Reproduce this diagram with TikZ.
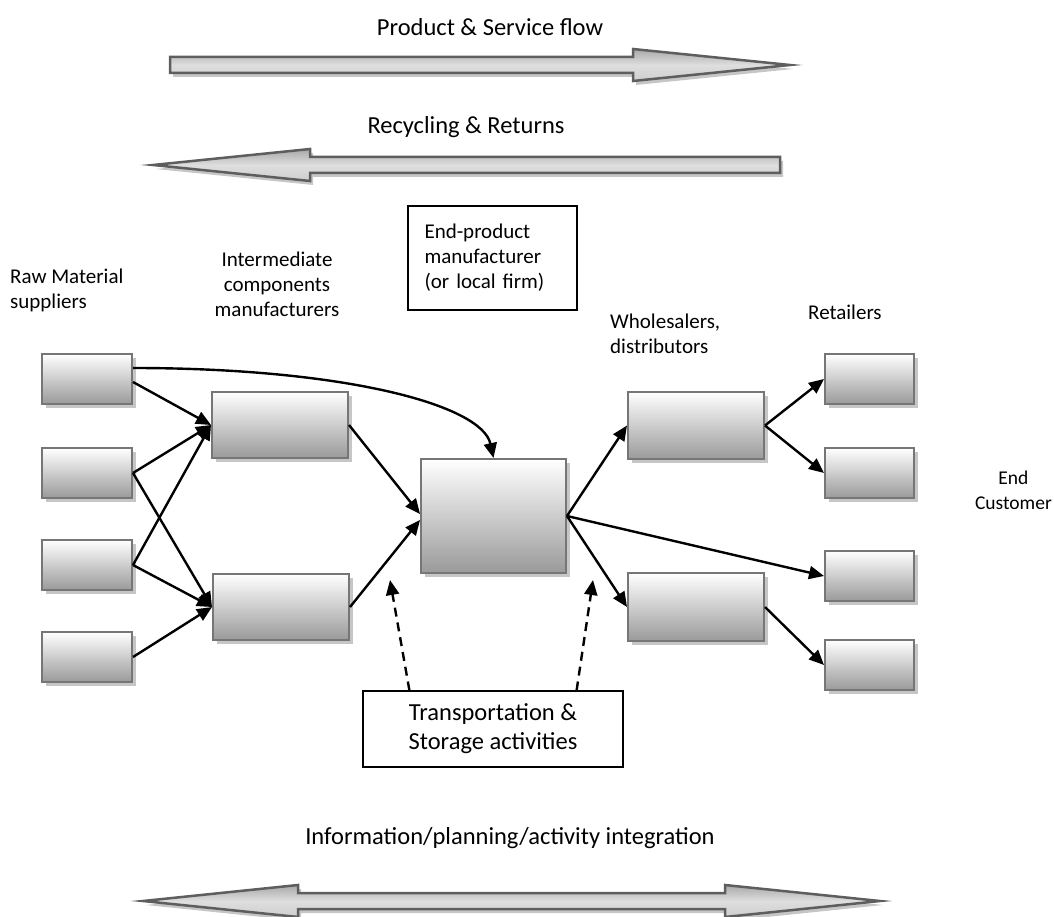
\documentclass[tikz,border=0pt]{standalone}
\usepackage{fontspec}
\setmainfont{Carlito}
\usetikzlibrary{arrows.meta,shadows,calc}
\definecolor{boxedge}{HTML}{767676}
\definecolor{boxshade}{HTML}{9A9A9A}
\definecolor{shadowgray}{HTML}{C6C6C6}
\definecolor{arrowedge}{HTML}{5E5E5E}
\begin{document}
\begin{tikzpicture}[x=1pt,y=-1pt,
  stagebox/.style={draw=boxedge, line width=2pt, top color=white, bottom color=boxshade,
    inner sep=0pt,
    drop shadow={shadow xshift=4pt, shadow yshift=-4pt, fill=shadowgray, opacity=1}},
  flow/.style={line width=2.4pt, -{Triangle[length=15pt,width=13pt]}},
  support/.style={flow, dash pattern=on 9pt off 6pt},
  lbl/.style={font=\fontsize{21}{25}\selectfont, inner sep=0pt},
  biglbl/.style={font=\fontsize{24.5}{29}\selectfont, inner sep=0pt},
  textbox/.style={draw=black, line width=1.2pt},
  bigarrow/.style={draw=arrowedge, line width=2.5pt, line join=miter,
    top color=gray!68, bottom color=gray!38, middle color=gray!26,
    drop shadow={shadow xshift=3pt, shadow yshift=-4pt, fill=shadowgray, opacity=1}}]
\useasboundingbox (0,0) rectangle (1054,917);

% flow banners
\node[biglbl] (pflow) at (490,27) {Product \& Service flow};
\draw[bigarrow] (170,57) -- (633,57) -- (633,49) -- (790,65) -- (633,81) -- (633,73) -- (170,73) -- cycle;
\node[biglbl] (rflow) at (466,127) {Recycling \& Returns};
\draw[bigarrow] (780,157) -- (310,157) -- (310,149) -- (153,165) -- (310,181) -- (310,173) -- (780,173) -- cycle;
\node[biglbl] (iflow) at (510,838) {Information/planning/activity integration};
\draw[bigarrow] (143,901) -- (298,885) -- (298,893) -- (725,893) -- (725,885) -- (880,901)
  -- (725,917) -- (725,909) -- (298,909) -- (298,917) -- cycle;

% stage labels
\node[lbl, anchor=west, align=left] (lraw) at (10,290.5) {Raw Material\\suppliers};
\node[lbl, align=center] (lint) at (277,284) {Intermediate\\components\\manufacturers};
\node[lbl, textbox, align=left, minimum width=169pt, minimum height=104pt, text width=136pt, inner xsep=16.5pt]
  (lend) at (492.5,258) {End-product\\manufacturer\\(or local firm)};
\node[lbl, anchor=west, align=left] (lwho) at (610,333.5) {Wholesalers,\\distributors};
\node[lbl, anchor=west] (lret) at (808,312) {Retailers};
\node[lbl, font=\fontsize{19.5}{25}\selectfont, align=center, anchor=east] (lcus) at (1052,490.5) {End\\Customer};

% supply chain stages
\node[stagebox, minimum width=90pt, minimum height=50pt] (r1) at (87,379) {};
\node[stagebox, minimum width=90pt, minimum height=50pt] (r2) at (87,473) {};
\node[stagebox, minimum width=90pt, minimum height=50pt] (r3) at (87,565) {};
\node[stagebox, minimum width=90pt, minimum height=50pt] (r4) at (87,657) {};
\node[stagebox, minimum width=136pt, minimum height=66pt] (ia) at (280,425) {};
\node[stagebox, minimum width=136pt, minimum height=66pt] (ib) at (281,607) {};
\node[stagebox, minimum width=145pt, minimum height=114pt] (c) at (493.5,516) {};
\node[stagebox, minimum width=136pt, minimum height=67pt] (wa) at (696,425.5) {};
\node[stagebox, minimum width=136pt, minimum height=68pt] (wb) at (696,607) {};
\node[stagebox, minimum width=89pt, minimum height=50pt] (t1) at (869.5,379) {};
\node[stagebox, minimum width=89pt, minimum height=50pt] (t2) at (869.5,473) {};
\node[stagebox, minimum width=89pt, minimum height=50pt] (t3) at (869.5,576) {};
\node[stagebox, minimum width=89pt, minimum height=50pt] (t4) at (869.5,665) {};

% transport & storage
\node[biglbl, textbox, align=center, minimum width=260pt, minimum height=76pt] (tr) at (493,729)
  {Transportation \&\\Storage activities};
\coordinate (sl) at (390,580);
\coordinate (sr) at (593,580);

% material flows
\draw[flow] ($(r1.east)+(0,-11)$) .. controls (345,368) and (482,405) .. (c.north);
\draw[flow] ($(r1.east)+(0,3)$) -- (ia.west);
\draw[flow] (r2.east) -- (ia.west);
\draw[flow] (r2.east) -- (ib.west);
\draw[flow] (r3.east) -- (ia.west);
\draw[flow] (r3.east) -- (ib.west);
\draw[flow] (r4.east) -- (ib.west);
\draw[flow] (ia.east) -- ($(c.west)+(0,-2)$);
\draw[flow] (ib.east) -- ($(c.west)+(0,4)$);
\draw[flow] (c.east) -- (wa.west);
\draw[flow] (c.east) -- (wb.west);
\draw[flow] (c.east) -- (t3.west);
\draw[flow] (wa.east) -- (t1.west);
\draw[flow] (wa.east) -- (t2.west);
\draw[flow] (wb.east) -- (t4.west);

% support links
\draw[support] ($(tr.north west)+(47,0)$) -- (sl);
\draw[support] ($(tr.north east)+(-47,0)$) -- (sr);
\end{tikzpicture}
\end{document}
